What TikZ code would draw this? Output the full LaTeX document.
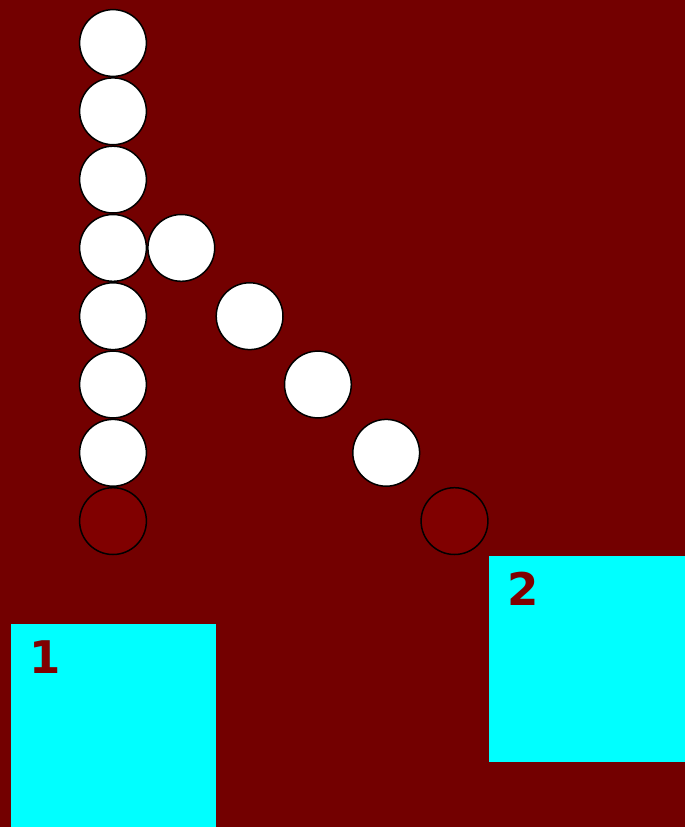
\documentclass[tikz,border=0pt]{standalone}
\usepackage{fontspec}
\setsansfont{DejaVu Sans}
\usetikzlibrary{positioning,calc}

\definecolor{bgred}{HTML}{730000}
\definecolor{darkred}{HTML}{800000}
\definecolor{bincyan}{HTML}{00FFFF}

\begin{document}
\begin{tikzpicture}[
  x=1pt,y=-1pt,
  node distance=0pt,
  ball/.style={draw,circle,minimum size=66.8pt,inner sep=0pt,line width=1.5pt,fill=white},
  hole/.style={ball,fill=darkred},
  bin/.style={fill=bincyan,draw=none,rectangle,inner sep=0pt,anchor=north west},
  binlabel/.style={text=darkred,font=\fontsize{45}{54}\selectfont\sffamily\bfseries,
    inner sep=0pt,anchor=north west}
]
  \fill[bgred] (0,0) rectangle (685,827);
  \useasboundingbox (0,0) rectangle (685,827);

  % upright stack
  \node[ball] (a1) at (113,43) {};
  \node[ball,below=of a1] (a2) {};
  \node[ball,below=of a2] (a3) {};
  \node[ball,below=of a3] (a4) {};
  \node[ball,below=of a4] (a5) {};
  \node[ball,below=of a5] (a6) {};
  \node[ball,below=of a6] (a7) {};
  \node[hole,below=of a7] (a8) {};

  % slanted row
  \node[ball,right=of a4] (b1) {};
  \node[ball] (b2) at ($(b1)+(68.3,68.3)$) {};
  \node[ball] (b3) at ($(b2)+(68.3,68.3)$) {};
  \node[ball] (b4) at ($(b3)+(68.3,68.3)$) {};
  \node[hole] (b5) at ($(b4)+(68.3,68.3)$) {};

  % bins
  \node[bin,minimum width=205pt,minimum height=203pt] (bin1) at (11,624) {};
  \node[bin,minimum width=196pt,minimum height=206pt] (bin2) at (489,556) {};
  \node[binlabel] (t1) at ($(bin1.north west)+(18,16)$) {1};
  \node[binlabel] (t2) at ($(bin2.north west)+(18,16)$) {2};
\end{tikzpicture}
\end{document}
